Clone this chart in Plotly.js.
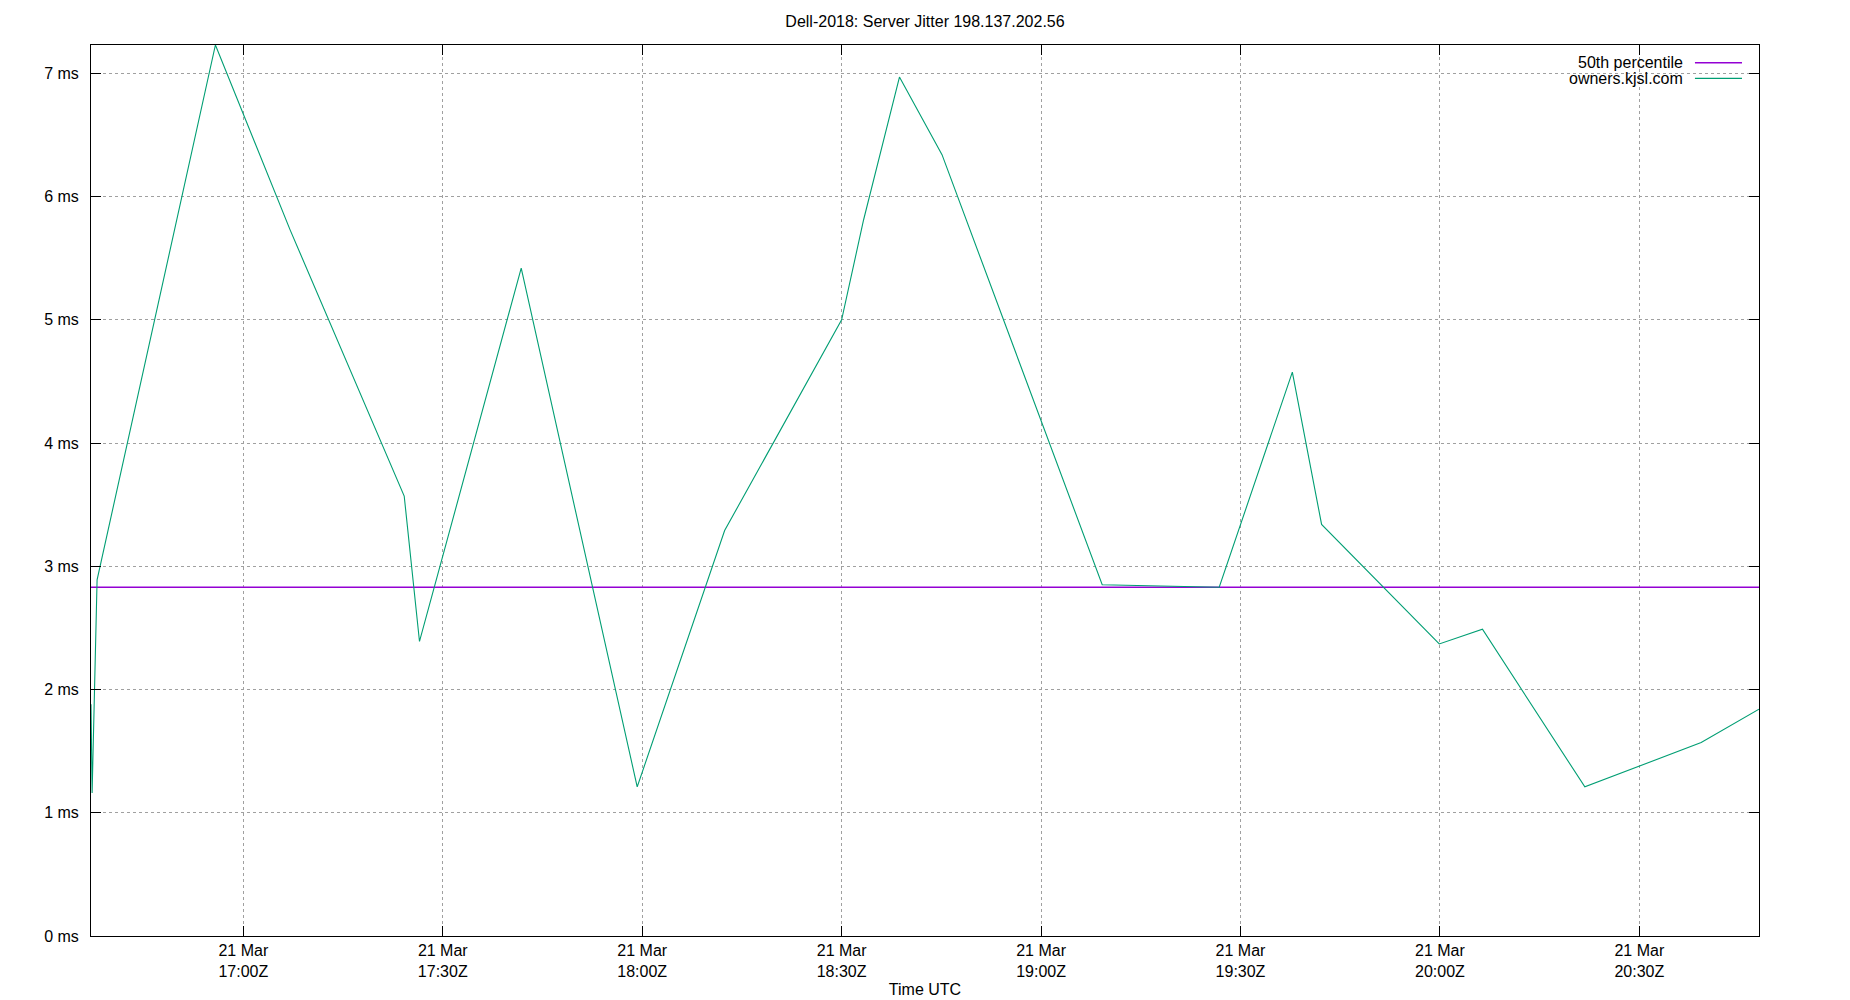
<!DOCTYPE html>
<html>
<head>
<meta charset="utf-8">
<script src="https://cdn.plot.ly/plotly-3.0.1.min.js"></script>
<style>
  body { margin: 0; background: #fff; }
  #chart { width: 1850px; height: 1000px; }
</style>
</head>
<body>
<div id="chart"></div>
<script>
// jitter samples for owners.kjsl.com (UTC)
var times = [
  "2018-03-21 16:37:05", "2018-03-21 16:37:15", "2018-03-21 16:38:00",
  "2018-03-21 16:55:48", "2018-03-21 17:07:02", "2018-03-21 17:24:12",
  "2018-03-21 17:26:30", "2018-03-21 17:41:48", "2018-03-21 17:59:15",
  "2018-03-21 18:12:24", "2018-03-21 18:30:00", "2018-03-21 18:33:18",
  "2018-03-21 18:38:42", "2018-03-21 18:45:06", "2018-03-21 19:09:12",
  "2018-03-21 19:26:48", "2018-03-21 19:37:48", "2018-03-21 19:42:12",
  "2018-03-21 19:59:54", "2018-03-21 20:06:24", "2018-03-21 20:21:48",
  "2018-03-21 20:39:18", "2018-03-21 20:48:00"
];
var jitter = [
  1.88, 1.16, 2.89,
  7.23, 5.73, 3.57,
  2.39, 5.42, 1.21,
  3.29, 5.00, 5.81,
  6.97, 6.34, 2.85,
  2.83, 4.575, 3.34,
  2.37, 2.49, 1.21,
  1.57, 1.84
];
var p50 = 2.83;

var seriesNames = ["50th percentile", "owners.kjsl.com"];
var seriesColors = ["#9400d3", "#009e73"];

var tStart = times[0];
var tEnd = times[times.length - 1];

var data = [
  {
    x: [tStart, tEnd],
    y: [p50, p50],
    type: "scatter",
    mode: "lines",
    name: seriesNames[0],
    line: { color: seriesColors[0], width: 1.3 },
    hoverinfo: "skip"
  },
  {
    x: times,
    y: jitter,
    type: "scatter",
    mode: "lines",
    name: seriesNames[1],
    line: { color: seriesColors[1], width: 1.1 }
  }
];

var font = { family: "Liberation Sans, Arial, sans-serif", size: 16, color: "#000" };

// gnuplot style key: text right-aligned, sample line to its right
var keyX = 0.9556, keyY = [0.9801, 0.9626];
var annotations = [], shapes = [];
for (var i = 0; i < seriesNames.length; i++) {
  annotations.push({
    xref: "paper", yref: "paper", x: keyX, y: keyY[i],
    xanchor: "right", yanchor: "middle", showarrow: false,
    text: seriesNames[i], font: font
  });
  shapes.push({
    type: "line", xref: "paper", yref: "paper",
    x0: 0.9616, x1: 0.9898, y0: keyY[i], y1: keyY[i],
    line: { color: seriesColors[i], width: 1.3 }
  });
}

var layout = {
  width: 1850,
  height: 1000,
  margin: { l: 91, r: 91, t: 45, b: 64 },
  paper_bgcolor: "#fff",
  plot_bgcolor: "#fff",
  font: font,
  showlegend: false,
  title: {
    text: "Dell-2018: Server Jitter 198.137.202.56",
    font: font,
    x: 0.5, xanchor: "center",
    y: 0.979, yanchor: "middle"
  },
  xaxis: {
    type: "date",
    range: [tStart, tEnd],
    tick0: "2018-03-21 17:00:00",
    dtick: 1800000,
    tickformat: "%d %b<br>%H:%MZ",
    ticks: "inside",
    ticklen: 10,
    tickcolor: "#000",
    ticklabelstandoff: 0,
    showline: true,
    linecolor: "#000",
    linewidth: 1,
    mirror: "ticks",
    showgrid: true,
    gridcolor: "#a0a0a0",
    griddash: "dot",
    gridwidth: 1,
    zeroline: false,
    title: { text: "Time UTC", font: font, standoff: 4 }
  },
  yaxis: {
    range: [0, 7.23],
    tick0: 0,
    dtick: 1,
    ticksuffix: " ms",
    ticks: "inside",
    ticklen: 10,
    tickcolor: "#000",
    ticklabelstandoff: 8,
    showline: true,
    linecolor: "#000",
    linewidth: 1,
    mirror: "ticks",
    showgrid: true,
    gridcolor: "#a0a0a0",
    griddash: "dot",
    gridwidth: 1,
    zeroline: false
  },
  annotations: annotations,
  shapes: shapes
};

Plotly.newPlot("chart", data, layout, { displayModeBar: false, staticPlot: true });
</script>
</body>
</html>
